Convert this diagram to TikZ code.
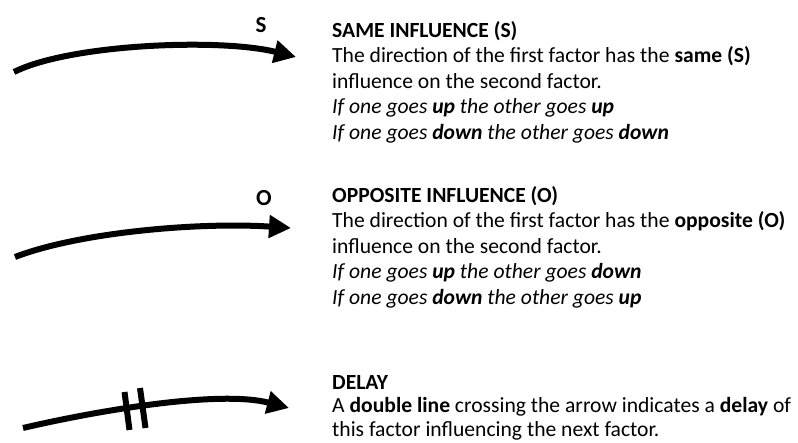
\documentclass[tikz,border=0pt]{standalone}
\usepackage{fontspec}
\setmainfont{Carlito}
\usetikzlibrary{arrows.meta,positioning}
\tikzset{
influence/.style={-{Triangle[length=22pt,width=22pt]},line width=6pt},
tick/.style={line width=6pt},
sign/.style={font=\fontsize{23}{26}\selectfont\bfseries,inner sep=0pt},
legend/.style={anchor=north west,align=left,inner sep=0pt,
font=\fontsize{21.6}{25.5}\selectfont},
}

\begin{document}
\begin{tikzpicture}[x=1pt,y=-1pt]
\useasboundingbox (0,0) rectangle (798,443);

\coordinate (s1) at (14,72);
\coordinate (s2) at (296,57);
\coordinate (o1) at (15,257);
\coordinate (o2) at (291,228);
\coordinate (d1) at (23,428);
\coordinate (d2) at (289,408);
\coordinate (t1) at (124.5,392);
\coordinate (t2) at (129.5,430);
\coordinate (t3) at (140,388);
\coordinate (t4) at (145.5,428);

\node[sign] (s) at (261,25) {S};
\node[sign] (o) at (264,198) {O};

\draw[influence] (s1) .. controls (70,44) and (220,38) .. (s2);
\draw[influence] (o1) .. controls (80,232) and (200,222) .. (o2);
\draw[influence] (d1) .. controls (100,410) and (220,390) .. (d2);
\draw[tick] (t1) -- (t2);
\draw[tick] (t3) -- (t4);

\node[legend] (same) at (332,21) {\textbf{SAME INFLUENCE (S)}\\
The direction of the first factor has the \textbf{same (S)}\\
influence on the second factor.\\
\textit{If one goes \textbf{up} the other goes \textbf{up}}\\
\textit{If one goes \textbf{down} the other goes \textbf{down}}};

\node[legend] (opposite) at (332,186) {\textbf{OPPOSITE INFLUENCE (O)}\\
The direction of the first factor has the \textbf{opposite (O)}\\
influence on the second factor.\\
\textit{If one goes \textbf{up} the other goes \textbf{down}}\\
\textit{If one goes \textbf{down} the other goes \textbf{up}}};

\node[legend,font=\fontsize{21.6}{23.5}\selectfont] (delay) at (332,375) {\textbf{DELAY}\\
A \textbf{double line} crossing the arrow indicates a \textbf{delay} of\\
this factor influencing the next factor.};
\end{tikzpicture}
\end{document}
